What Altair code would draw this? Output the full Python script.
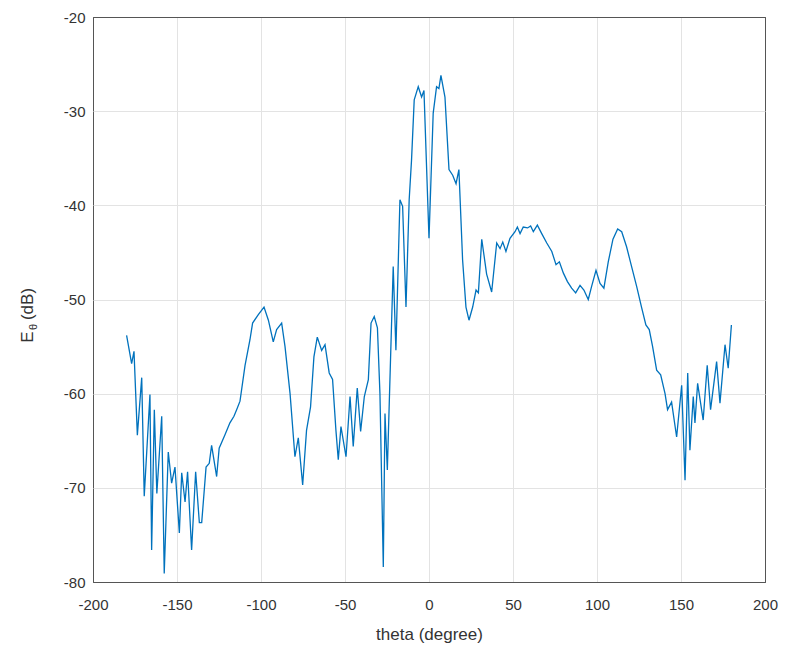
import altair as alt
import pandas as pd

theta = [
    -180, -177, -175.6, -173.6, -171, -169.5, -166.1, -165.1, -163.5, -162,
    -159.1, -157.6, -155.2, -153.2, -151.2, -148.6, -147.2, -145.2, -143.7, -141.3,
    -138.9, -136.7, -135.3, -132.7, -130.8, -129.4, -126.4, -124.9, -121.5, -118.5,
    -116.1, -114.5, -112.5, -109.5, -106.6, -105, -101.6, -98.2, -95.6, -92.7,
    -90.7, -87.7, -85.7, -82.7, -79.8, -77.8, -75.2, -72.9, -70.5, -68.5,
    -66.5, -63.9, -61.9, -59.4, -57.4, -55.4, -54, -52.4, -49.4, -47,
    -45.1, -42.7, -40.7, -38.5, -36.1, -34.5, -32.6, -30.7, -29.2, -27.2,
    -26.2, -24.8, -21.3, -19.7, -17.3, -15.7, -13.7, -11.8, -10.4, -8.8,
    -6.4, -4.4, -3, 0, 2.5, 4.5, 5.9, 7.1, 9.5, 11.9,
    14.1, 16.1, 17.8, 20, 22, 23.8, 26, 28, 29.4, 31.4,
    34.3, 37.3, 40.3, 42.3, 43.9, 45.8, 48.2, 51.2, 52.6, 54.2,
    56.1, 58.7, 60.5, 62.1, 64.5, 67.1, 70.1, 73.1, 75.6, 77.6,
    80, 82.4, 84.9, 87.3, 89.9, 92.2, 94.8, 96.8, 99.4, 101.8,
    104.1, 106.7, 109.5, 112.3, 114.7, 117.6, 120.6, 123.6, 126.6, 129.1,
    131.1, 133.1, 135.5, 137.9, 140.5, 142.0, 144.4, 147.4, 150.4, 152.4,
    154, 155.3, 157.3, 158.3, 159.9, 163.2, 165.6, 167.6, 171.2, 173.2,
    176.2, 178.1, 180,
]
e_theta = [
    -53.8, -56.8, -55.5, -64.4, -58.3, -70.9, -60.1, -76.6, -61.7, -70.6,
    -62.4, -79.1, -66.2, -69.5, -67.8, -74.8, -68.4, -71.5, -68.3, -76.6,
    -68.3, -73.7, -73.7, -67.8, -67.4, -65.5, -68.8, -65.8, -64.4, -63.1,
    -62.4, -61.7, -60.8, -57.0, -54.3, -52.5, -51.6, -50.8, -52.2, -54.5,
    -53.2, -52.5, -55.0, -60.0, -66.7, -64.7, -69.7, -63.9, -61.4, -56.1,
    -54.0, -55.4, -54.8, -57.8, -58.5, -63.9, -67.0, -63.5, -66.7, -60.3,
    -65.6, -59.4, -64.0, -60.3, -58.5, -52.5, -51.8, -53.0, -60.0, -78.4,
    -62.1, -68.1, -46.5, -55.4, -39.4, -40.1, -50.8, -39.4, -35.2, -28.8,
    -27.4, -28.5, -27.8, -43.5, -30.2, -27.4, -27.6, -26.2, -28.5, -36.2,
    -36.8, -37.7, -36.2, -45.8, -50.8, -52.2, -50.8, -49.0, -49.3, -43.6,
    -47.3, -49.2, -44.0, -44.6, -43.9, -44.9, -43.5, -42.8, -42.3, -43.0,
    -42.3, -42.4, -42.2, -42.8, -42.1, -43.0, -44.0, -44.9, -46.3, -46.0,
    -47.2, -48.1, -48.8, -49.3, -48.5, -49.0, -50.0, -48.6, -46.9, -48.3,
    -48.8, -46.0, -43.6, -42.5, -42.8, -44.4, -46.5, -48.6, -50.9, -52.7,
    -53.2, -55.0, -57.5, -58.0, -60.0, -61.7, -60.9, -64.6, -59.1, -69.2,
    -57.8, -66.0, -60.3, -63.1, -58.9, -62.8, -57.0, -61.7, -56.6, -61.0,
    -54.8, -57.3, -52.7,
]
x_ticks = [-200, -150, -100, -50, 0, 50, 100, 150, 200]
y_ticks = [-80, -70, -60, -50, -40, -30, -20]

df = pd.DataFrame({"theta": theta, "E": e_theta})

FONT = "Liberation Sans"
TXT = "#333333"
FRAME = "#555555"
GRID = "#e3e3e3"

x_grid_color = {"condition": {"test": "datum.value == -200 || datum.value == 200", "value": FRAME},
                "value": GRID}
y_grid_color = {"condition": {"test": "datum.value == -80 || datum.value == -20", "value": FRAME},
                "value": GRID}

line = alt.Chart(df).mark_line(color="#0072BD", strokeWidth=1.3).encode(
    x=alt.X("theta:Q",
            scale=alt.Scale(domain=[-200, 200], nice=False),
            axis=alt.Axis(values=x_ticks, title="theta (degree)",
                          labelExpr="'' + datum.value", gridColor=x_grid_color)),
    y=alt.Y("E:Q",
            scale=alt.Scale(domain=[-80, -20], nice=False),
            axis=alt.Axis(values=y_ticks, title=None,
                          labelExpr="'' + datum.value", gridColor=y_grid_color)),
)

t_E = alt.Chart(pd.DataFrame({"t": ["E"]})).mark_text(
    angle=270, font=FONT, fontSize=17, color=TXT, align="center", baseline="middle").encode(
    x=alt.value(-65), y=alt.value(320), text="t:N")
t_th = alt.Chart(pd.DataFrame({"t": ["\u03b8"]})).mark_text(
    angle=270, font=FONT, fontSize=11, color=TXT, align="center", baseline="middle").encode(
    x=alt.value(-59), y=alt.value(310), text="t:N")
t_db = alt.Chart(pd.DataFrame({"t": ["(dB)"]})).mark_text(
    angle=270, font=FONT, fontSize=17, color=TXT, align="center", baseline="middle").encode(
    x=alt.value(-65), y=alt.value(287), text="t:N")

chart = alt.layer(line, t_E, t_th, t_db).properties(
    width=672, height=565,
    autosize=alt.AutoSizeParams(type="none"),
    padding={"left": 93, "top": 17, "right": 22, "bottom": 75},
    background="white",
).configure_view(
    stroke=FRAME, strokeWidth=1
).configure_axis(
    grid=True, gridWidth=1,
    domain=False, ticks=False, labelFlush=False,
    labelFont=FONT, labelFontSize=15, labelColor=TXT,
    titleFont=FONT, titleFontSize=17, titleColor=TXT, titleFontWeight="normal",
).configure_axisX(
    labelPadding=15, titlePadding=14,
).configure_axisY(
    labelPadding=8,
)

chart.save("out.html", embed_options={"renderer": "svg", "actions": False})
